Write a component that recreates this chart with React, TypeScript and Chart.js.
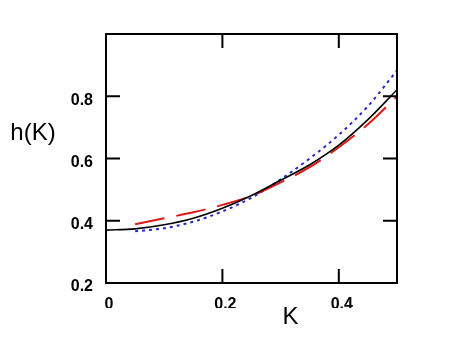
import React, { useEffect, useRef } from "react";
import { Chart, registerables } from "chart.js";

Chart.register(...registerables);

const kValues = [0, 0.05, 0.1, 0.15, 0.2, 0.25, 0.3, 0.35, 0.4, 0.45, 0.5];
const blackSolid = [0.370, 0.374, 0.387, 0.408, 0.440, 0.481, 0.530, 0.580, 0.643, 0.725, 0.821];
const blueK = [0.05, 0.1, 0.15, 0.2, 0.25, 0.3, 0.35, 0.4, 0.45, 0.5];
const blueDotted = [0.366, 0.376, 0.397, 0.430, 0.474, 0.533, 0.600, 0.676, 0.768, 0.883];
const redK = [0.05, 0.1, 0.15, 0.2, 0.25, 0.3, 0.35, 0.4, 0.45, 0.5];
const redDashed = [0.389, 0.408, 0.427, 0.451, 0.480, 0.523, 0.572, 0.636, 0.710, 0.800];
const xTicks = [0, 0.2, 0.4];
const yTicks = [0.2, 0.4, 0.6, 0.8];
const xTitle = "K";
const yTitle = "h(K)";

const FONT = "'Liberation Sans', Arial, sans-serif";

const framePlugin = {
  id: "frame",
  afterDraw(chart: any) {
    const { ctx, chartArea, scales } = chart;
    const { left, right, top, bottom } = chartArea;
    ctx.save();
    ctx.strokeStyle = "#000";
    ctx.lineWidth = 2;
    ctx.strokeRect(left, top, right - left, bottom - top);
    const tl = 14;
    ctx.lineWidth = 2;
    ctx.beginPath();
    scales.x.ticks.forEach((t: any) => {
      const px = scales.x.getPixelForValue(t.value);
      ctx.moveTo(px, bottom);
      ctx.lineTo(px, bottom - tl);
      ctx.moveTo(px, top);
      ctx.lineTo(px, top + tl);
    });
    scales.y.ticks.forEach((t: any) => {
      const py = scales.y.getPixelForValue(t.value);
      ctx.moveTo(left, py);
      ctx.lineTo(left + tl, py);
      ctx.moveTo(right, py);
      ctx.lineTo(right - tl, py);
    });
    ctx.stroke();
    ctx.fillStyle = "#000";
    ctx.font = `24px ${FONT}`;
    ctx.textAlign = "center";
    ctx.textBaseline = "middle";
    ctx.fillText(xTitle, scales.x.getPixelForValue(0.317), bottom + 34);
    ctx.fillText(yTitle, left - 73, scales.y.getPixelForValue(0.68));
    ctx.restore();
  },
};

export default function App() {
  const ref = useRef<HTMLCanvasElement | null>(null);
  useEffect(() => {
    if (!ref.current) return;
    const chart = new Chart(ref.current, {
      type: "line",
      data: {
        datasets: [
          {
            data: kValues.map((k, i) => ({ x: k, y: blackSolid[i] })),
            borderColor: "#000000",
            borderWidth: 1.6,
            pointRadius: 0,
            cubicInterpolationMode: "monotone",
          },
          {
            data: redK.map((k, i) => ({ x: k, y: redDashed[i] })),
            borderColor: "#e01818",
            borderWidth: 2,
            borderDash: [30, 12],
            pointRadius: 0,
            cubicInterpolationMode: "monotone",
          },
          {
            data: blueK.map((k, i) => ({ x: k, y: blueDotted[i] })),
            borderColor: "#2828c8",
            borderWidth: 2,
            borderDash: [3, 4],
            pointRadius: 0,
            cubicInterpolationMode: "monotone",
          },
        ],
      },
      options: {
        animation: false,
        responsive: false,
        maintainAspectRatio: false,
        layout: { padding: { left: 66, right: 53, top: 34, bottom: 30 } },
        plugins: { legend: { display: false }, tooltip: { enabled: false } },
        scales: {
          x: {
            type: "linear",
            min: 0,
            max: 0.5,
            afterBuildTicks: (s: any) => {
              s.ticks = xTicks.map((v) => ({ value: v }));
            },
            afterFit: (s: any) => {
              s.height = 25;
            },
            grid: { display: false, drawTicks: false },
            border: { display: false },
            ticks: {
              color: "#000",
              padding: 12,
              labelOffset: 3,
              maxRotation: 0,
              font: { family: FONT, size: 16, weight: "bold" },
              callback: (v: any) => String(v),
            },
          },
          y: {
            type: "linear",
            min: 0.2,
            max: 1.0,
            afterBuildTicks: (s: any) => {
              s.ticks = yTicks.map((v) => ({ value: v }));
            },
            afterFit: (s: any) => {
              s.width = 40;
            },
            grid: { display: false, drawTicks: false },
            border: { display: false },
            ticks: {
              color: "#000",
              padding: 13,
              labelOffset: 4,
              font: { family: FONT, size: 16, weight: "bold" },
              callback: (v: any) => String(v),
            },
          },
        },
      },
      plugins: [framePlugin],
    } as any);
    return () => chart.destroy();
  }, []);
  return (
    <div style={{ position: "fixed", left: 0, top: 0, width: 450, height: 338, background: "#fff" }}>
      <canvas ref={ref} width={450} height={338} style={{ display: "block" }} />
    </div>
  );
}
